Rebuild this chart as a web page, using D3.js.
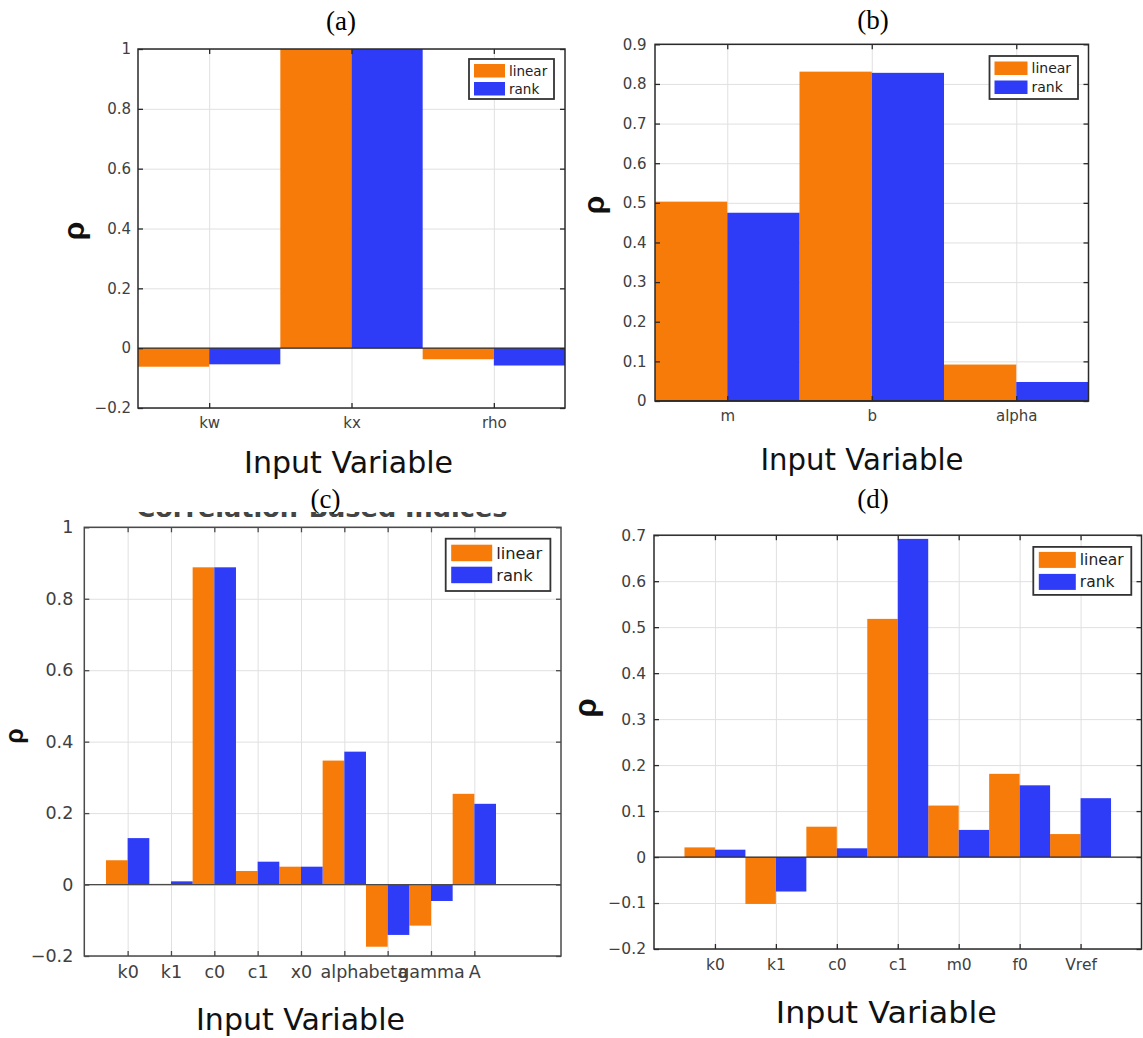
<!DOCTYPE html>
<html><head><meta charset="utf-8">
<script src="https://cdn.jsdelivr.net/npm/d3@7"></script>
<style>body{margin:0;background:#fff}svg{display:block}</style>
</head><body>
<svg id="chart" width="1143" height="1038"></svg>
<script>
// ---------- data ----------
const seriesNames = ["linear", "rank"];

const catsA = ["kw", "kx", "rho"];
const linearA = [-0.062, 1.0, -0.037];
const rankA = [-0.054, 1.0, -0.058];
const yTicksA = [-0.2, 0, 0.2, 0.4, 0.6, 0.8, 1];

const catsB = ["m", "b", "alpha"];
const linearB = [0.503, 0.831, 0.092];
const rankB = [0.475, 0.828, 0.048];
const yTicksB = [0, 0.1, 0.2, 0.3, 0.4, 0.5, 0.6, 0.7, 0.8, 0.9];

const catsC = ["k0", "k1", "c0", "c1", "x0", "alpha", "beta", "gamma", "A"];
const linearC = [0.068, 0.002, 0.888, 0.038, 0.050, 0.347, -0.174, -0.115, 0.254];
const rankC = [0.130, 0.009, 0.888, 0.064, 0.050, 0.372, -0.141, -0.046, 0.226];
const yTicksC = [-0.2, 0, 0.2, 0.4, 0.6, 0.8, 1];

const catsD = ["k0", "k1", "c0", "c1", "m0", "f0", "Vref"];
const linearD = [0.021, -0.102, 0.066, 0.518, 0.112, 0.181, 0.050];
const rankD = [0.016, -0.075, 0.019, 0.692, 0.059, 0.156, 0.128];
const yTicksD = [-0.2, -0.1, 0, 0.1, 0.2, 0.3, 0.4, 0.5, 0.6, 0.7];

const panelLabels = ["(a)", "(b)", "(c)", "(d)"];
const xAxisTitle = "Input Variable";
const yAxisTitle = "ρ";
const hiddenTitleC = "Correlation-Based Indices";

// ---------- styles / layout ----------
const colors = ["#F77B08", "#2E3CF7"];
const sans = "'DejaVu Sans', 'Noto Sans', sans-serif";
const serif = "'Liberation Serif', 'Times New Roman', serif";

const svg = d3.select("#chart");

const fmt = v => {
  const s = (Math.round(v * 10) / 10).toString();
  return s.replace("-", "\u2212");
};

function drawPanel(p) {
  const g = svg.append("g");
  const x = d3.scaleLinear().domain(p.xlim).range([p.left, p.right]);
  const y = d3.scaleLinear().domain(p.ylim).range([p.bottom, p.top]);
  const pos = p.cats.map((c, i) => i + 1);
  const clipId = "clip" + p.id;
  svg.append("clipPath").attr("id", clipId).append("rect")
    .attr("x", p.left).attr("y", p.top).attr("width", p.right - p.left).attr("height", p.bottom - p.top);

  // grid
  const gy = g.append("g").attr("transform", `translate(${p.left},0)`)
    .call(d3.axisLeft(y).tickValues(p.yTicks).tickSize(-(p.right - p.left)).tickFormat(""));
  gy.select(".domain").remove();
  gy.selectAll("line").attr("stroke", "#e0e0e0").attr("stroke-width", 1);
  const gx = g.append("g").attr("transform", `translate(0,${p.bottom})`)
    .call(d3.axisBottom(x).tickValues(pos).tickSize(-(p.bottom - p.top)).tickFormat(""));
  gx.select(".domain").remove();
  gx.selectAll("line").attr("stroke", "#e0e0e0").attr("stroke-width", 1);

  // bars
  const bars = g.append("g").attr("clip-path", `url(#${clipId})`);
  [p.linear, p.rank].forEach((vals, s) => {
    bars.selectAll(null).data(vals).enter().append("rect")
      .attr("x", (v, i) => x(pos[i] - 0.5 + s * 0.5))
      .attr("width", (v, i) => x(pos[i] + s * 0.5) - x(pos[i] - 0.5 + s * 0.5))
      .attr("y", v => y(Math.max(0, v)))
      .attr("height", v => Math.abs(y(v) - y(0)))
      .attr("fill", colors[s]);
  });

  // baseline
  g.append("line").attr("x1", p.left).attr("x2", p.right)
    .attr("y1", y(0)).attr("y2", y(0)).attr("stroke", p.axisColor).attr("stroke-width", 1.3);

  // axes with inward ticks
  const tk = 5;
  const la = g.append("g").attr("transform", `translate(${p.left},0)`)
    .call(d3.axisLeft(y).tickValues(p.yTicks).tickSizeInner(-tk).tickSizeOuter(0).tickPadding(p.yPad).tickFormat(fmt));
  const ra = g.append("g").attr("transform", `translate(${p.right},0)`)
    .call(d3.axisRight(y).tickValues(p.yTicks).tickSizeInner(-tk).tickSizeOuter(0).tickFormat(""));
  const ba = g.append("g").attr("transform", `translate(0,${p.bottom})`)
    .call(d3.axisBottom(x).tickValues(pos).tickSizeInner(-tk).tickSizeOuter(0).tickPadding(p.xPad).tickFormat(i => p.cats[i - 1]));
  const ta = g.append("g").attr("transform", `translate(0,${p.top})`)
    .call(d3.axisTop(x).tickValues(pos).tickSizeInner(-tk).tickSizeOuter(0).tickFormat(""));
  [la, ra, ba, ta].forEach(a => {
    a.select(".domain").remove();
    a.selectAll("line").attr("stroke", p.axisColor).attr("stroke-width", 1.3);
    a.selectAll("text").attr("fill", "#404040").attr("font-family", sans).attr("font-size", p.tickFs);
  });

  // box
  g.append("rect").attr("x", p.left).attr("y", p.top)
    .attr("width", p.right - p.left).attr("height", p.bottom - p.top)
    .attr("fill", "none").attr("stroke", p.axisColor).attr("stroke-width", 1.5);

  // legend
  const L = p.legend;
  const lg = g.append("g");
  lg.append("rect").attr("x", L.x).attr("y", L.y).attr("width", L.w).attr("height", L.h)
    .attr("fill", "#fff").attr("stroke", "#333").attr("stroke-width", 1.8);
  seriesNames.forEach((n, s) => {
    const sy = L.y + L.pad + s * (L.sh + L.gap);
    lg.append("rect").attr("x", L.x + L.sx).attr("y", sy).attr("width", L.sw).attr("height", L.sh)
      .attr("fill", colors[s]);
    lg.append("text").attr("x", L.x + L.sx + L.sw + 4).attr("y", sy + L.sh / 2)
      .attr("dy", "0.36em").attr("font-family", sans).attr("font-size", L.fs).attr("fill", "#222").text(n);
  });

  // panel label
  svg.append("text").attr("x", p.title[0]).attr("y", p.title[1]).attr("text-anchor", "middle")
    .attr("font-family", serif).attr("font-size", 27).attr("fill", "#000").text(p.label);

  // y label
  svg.append("text").attr("transform", `translate(${p.ylab[0]},${p.ylab[1]}) rotate(-90)`)
    .attr("text-anchor", "middle").attr("dy", "0.15em")
    .attr("font-family", "'Liberation Sans', Arial, sans-serif").attr("font-weight", "bold").attr("font-size", p.ylabFs)
    .attr("fill", "#111").text(yAxisTitle);

  // x label
  svg.append("text").attr("x", p.xlab[0]).attr("y", p.xlab[1]).attr("text-anchor", "middle")
    .attr("font-family", sans).attr("font-size", 29.5).attr("textLength", p.xlab[2])
    .attr("lengthAdjust", "spacingAndGlyphs").attr("fill", "#111").text(xAxisTitle);
}

// title behind (c), mostly covered in the original figure
svg.append("clipPath").attr("id", "clipHidden").append("rect")
  .attr("x", 0).attr("y", 512).attr("width", 600).attr("height", 6);
svg.append("text").attr("clip-path", "url(#clipHidden)")
  .attr("x", 322).attr("y", 517).attr("text-anchor", "middle")
  .attr("font-family", sans).attr("font-weight", "bold").attr("font-size", 25)
  .attr("textLength", 371).attr("lengthAdjust", "spacingAndGlyphs")
  .attr("fill", "#444").text(hiddenTitleC);

drawPanel({
  id: "A", label: panelLabels[0], cats: catsA, linear: linearA, rank: rankA, yTicks: yTicksA,
  xlim: [0.5, 3.5], ylim: [-0.2, 1], left: 138, right: 565, top: 49, bottom: 408,
  axisColor: "#2a2a2a", tickFs: 15, yPad: 7, xPad: 9, ylabFs: 30,
  legend: { x: 469, y: 59, w: 85, h: 40, pad: 5, sx: 5, sw: 31, sh: 13.5, gap: 4.5, fs: 13.5 },
  title: [341, 30], ylab: [79.5, 231], xlab: [348.6, 473, 209]
});
drawPanel({
  id: "B", label: panelLabels[1], cats: catsB, linear: linearB, rank: rankB, yTicks: yTicksB,
  xlim: [0.5, 3.5], ylim: [0, 0.9], left: 655, right: 1088.5, top: 44.3, bottom: 401,
  axisColor: "#2a2a2a", tickFs: 15, yPad: 8.5, xPad: 9, ylabFs: 30,
  legend: { x: 989.5, y: 56, w: 88.5, h: 43, pad: 5.5, sx: 5, sw: 33, sh: 13.5, gap: 5.5, fs: 14 },
  title: [873, 29], ylab: [599, 205], xlab: [862, 470, 203]
});
drawPanel({
  id: "C", label: panelLabels[2], cats: catsC, linear: linearC, rank: rankC, yTicks: yTicksC,
  xlim: [0, 11], ylim: [-0.2, 1], left: 84.3, right: 561, top: 527.3, bottom: 956,
  axisColor: "#4a4a4a", tickFs: 17.5, yPad: 11, xPad: 10, ylabFs: 25,
  legend: { x: 445.7, y: 538.7, w: 104.7, h: 52.3, pad: 6, sx: 5.5, sw: 41, sh: 16.5, gap: 5.5, fs: 16.3 },
  title: [325.5, 508], ylab: [19.5, 736], xlab: [300.5, 1030, 209]
});
drawPanel({
  id: "D", label: panelLabels[3], cats: catsD, linear: linearD, rank: rankD, yTicks: yTicksD,
  xlim: [0, 8], ylim: [-0.2, 0.7], left: 654, right: 1141.5, top: 535.2, bottom: 949,
  axisColor: "#2a2a2a", tickFs: 15.5, yPad: 8, xPad: 10, ylabFs: 31,
  legend: { x: 1033.3, y: 546.9, w: 98, h: 48, pad: 5, sx: 5.5, sw: 37, sh: 16, gap: 6, fs: 15.5 },
  title: [873, 508], ylab: [591.6, 708], xlab: [886.3, 1022.7, 221]
});
</script>
</body></html>
